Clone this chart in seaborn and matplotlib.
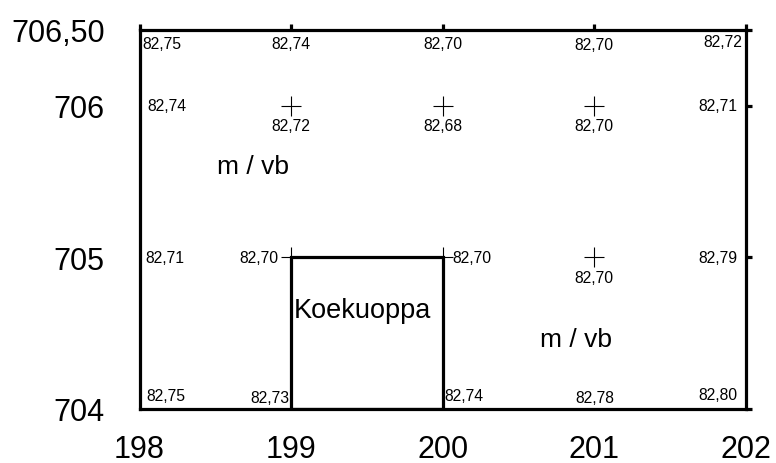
import matplotlib
matplotlib.use("Agg")
import matplotlib.pyplot as plt
import seaborn as sns
import pandas as pd
from matplotlib.patches import Rectangle

# grid points with their measured heights (m)
pt_x = [198, 199, 200, 201, 202,
        198, 199, 200, 201, 202,
        198, 199, 200, 201, 202,
        198, 199, 200, 201, 202]
pt_y = [706.5] * 5 + [706] * 5 + [705] * 5 + [704] * 5
pt_val = [82.75, 82.74, 82.70, 82.70, 82.72,
          82.74, 82.72, 82.68, 82.70, 82.71,
          82.71, 82.70, 82.70, 82.70, 82.79,
          82.75, 82.73, 82.74, 82.78, 82.80]

# surveyed points drawn with a cross
cross_x = [199, 200, 201, 199, 200, 201]
cross_y = [706, 706, 706, 705, 705, 705]

x_ticks = [198, 199, 200, 201, 202]
y_ticks = [704, 705, 706, 706.5]
y_tick_labels = ["704", "705", "706", "706,50"]

pit_x = [199, 200]
pit_y = [704, 705]

# label placement (offset in points, ha, va) per grid point
label_place = [
    ((2, -4), "left", "top"), ((0, -4), "center", "top"), ((0, -4), "center", "top"),
    ((0, -5), "center", "top"), ((-3, -3), "right", "top"),
    ((6, 0), "left", "center"), ((0, -9), "center", "top"), ((0, -9), "center", "top"),
    ((0, -9), "center", "top"), ((-6, 0), "right", "center"),
    ((4, 0), "left", "center"), ((-9, 0), "right", "center"), ((7, 0), "left", "center"),
    ((0, -9), "center", "top"), ((-6, 0), "right", "center"),
    ((5, 4), "left", "bottom"), ((-1, 3), "right", "bottom"), ((1, 4), "left", "bottom"),
    ((0, 3), "center", "bottom"), ((-6, 5), "right", "bottom"),
]

sns.set_style("white")
plt.rcParams["font.family"] = ["Liberation Sans", "DejaVu Sans"]
plt.rcParams["text.color"] = "black"
plt.rcParams["xtick.color"] = "black"
plt.rcParams["ytick.color"] = "black"

fig = plt.figure(figsize=(7.76, 4.64), dpi=100)
ax = fig.add_axes([0.1798, 0.1164, 0.7815, 0.8168])

crosses = pd.DataFrame({"x": cross_x, "y": cross_y})
sns.scatterplot(data=crosses, x="x", y="y", marker="+", s=200, color="black",
                linewidth=0.8, ax=ax, zorder=3)

ax.add_patch(Rectangle((pit_x[0], pit_y[0]), pit_x[1] - pit_x[0], pit_y[1] - pit_y[0],
                       fill=False, edgecolor="black", linewidth=2.3, zorder=4))

for x, y, v, (off, ha, va) in zip(pt_x, pt_y, pt_val, label_place):
    ax.annotate(f"{v:.2f}".replace(".", ","), (x, y), xytext=off,
                textcoords="offset points", ha=ha, va=va, fontsize=11.3)

ax.text(199.47, 704.65, "Koekuoppa", ha="center", va="center", fontsize=19.5)
ax.text(198.75, 705.60, "m / vb", ha="center", va="center", fontsize=19)
ax.text(200.876, 704.46, "m / vb", ha="center", va="center", fontsize=19)

ax.set_xlim(198, 202)
ax.set_ylim(704, 706.5)
ax.set_xticks(x_ticks)
ax.set_xticklabels([str(t) for t in x_ticks])
ax.set_yticks(y_ticks)
ax.set_yticklabels(y_tick_labels)
ax.set_xlabel("")
ax.set_ylabel("")

for s in ax.spines.values():
    s.set_linewidth(2.3)
    s.set_color("black")
    s.set_visible(True)

ax.tick_params(axis="both", which="both", direction="out", length=4, width=2.3,
               color="black", labelcolor="black", labelsize=22, top=True, right=True,
               labeltop=False, labelright=False)
ax.tick_params(axis="x", pad=14)
ax.tick_params(axis="y", pad=21)

fig.savefig("out.png", dpi=100)
